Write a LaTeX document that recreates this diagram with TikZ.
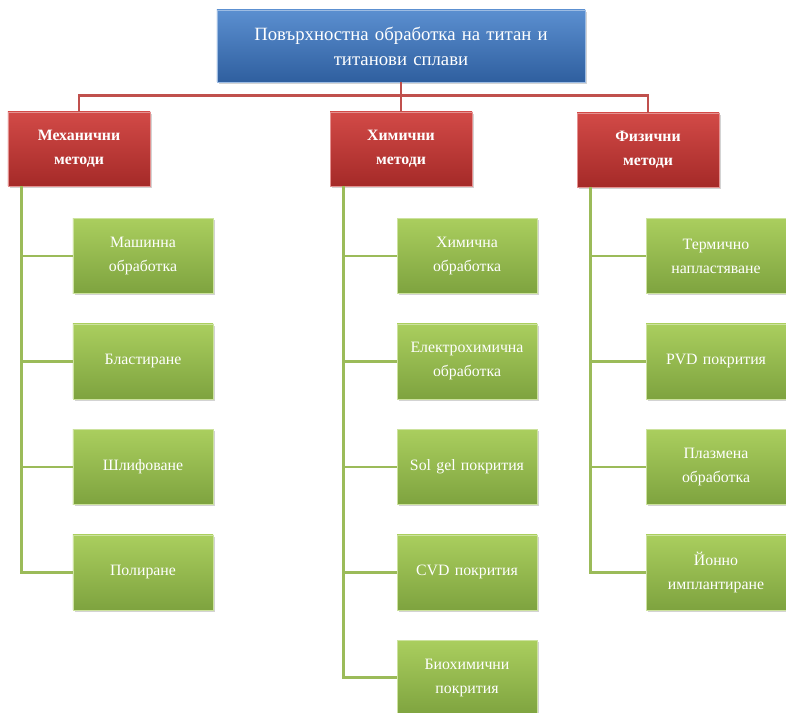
\documentclass[tikz,border=0pt]{standalone}
\usepackage{fontspec}
\setmainfont{Liberation Serif}
\usetikzlibrary{positioning,shadows}

\definecolor{blueTop}{HTML}{5B8FD0}
\definecolor{blueBot}{HTML}{2F5F9F}
\definecolor{redTop}{HTML}{D24A47}
\definecolor{redBot}{HTML}{A52A28}
\definecolor{greenTop}{HTML}{AACE5E}
\definecolor{greenBot}{HTML}{7EA33F}
\definecolor{lineRed}{HTML}{C0504D}
\definecolor{lineGreen}{HTML}{9BBB59}

\begin{document}
\begin{tikzpicture}[
x=0.03cm, y=-0.03cm,
node distance=0.9cm,
box/.style={
    rectangle,
    align=center,
    text=white,
    drop shadow={opacity=0.35, shadow xshift=0.06cm, shadow yshift=-0.06cm}
},
titlebox/.style={
    box,
    draw=blueTop!60!white,
    top color=blueTop,
    bottom color=blueBot,
    minimum width=11.04cm,
    minimum height=2.16cm,
    text width=10.6cm,
    font=\fontsize{16}{21.5}\selectfont
},
groupbox/.style={
    box,
    draw=redTop!60!white,
    top color=redTop,
    bottom color=redBot,
    minimum width=4.26cm,
    minimum height=2.22cm,
    text width=3.9cm,
    font=\bfseries\fontsize{13.5}{20.5}\selectfont
},
leafbox/.style={
    box,
    draw=greenTop!60!white,
    top color=greenTop,
    bottom color=greenBot,
    minimum width=4.2cm,
    minimum height=2.25cm,
    text width=3.9cm,
    font=\fontsize{13.5}{20.5}\selectfont
},
redline/.style={draw=lineRed, line width=2.4pt},
greenline/.style={draw=lineGreen, line width=2.4pt}
]

\useasboundingbox (0,0) rectangle (786,713);

\node[titlebox] (title) at (401,46) {Повърхностна обработка на титан и\\титанови сплави};

\node[groupbox] (mech) at (79,149) {Механични\\методи};
\node[groupbox] (chem) at (401,149) {Химични\\методи};
\node[groupbox] (phys) at (648,150) {Физични\\методи};

% mechanical methods
\node[leafbox] (m1) at (143,256) {Машинна\\обработка};
\node[leafbox, below=of m1] (m2) {Бластиране};
\node[leafbox, below=of m2] (m3) {Шлифоване};
\node[leafbox, below=of m3] (m4) {Полиране};

% chemical methods
\node[leafbox] (c1) at (467,256) {Химична\\обработка};
\node[leafbox, below=of c1] (c2) {Електрохимична\\обработка};
\node[leafbox, below=of c2] (c3) {Sol gel покрития};
\node[leafbox, below=of c3] (c4) {CVD покрития};
\node[leafbox, below=of c4] (c5) {Биохимични\\покрития};

% physical methods
\node[leafbox] (p1) at (716,256) {Термично\\напластяване};
\node[leafbox, below=of p1] (p2) {PVD покрития};
\node[leafbox, below=of p2] (p3) {Плазмена\\обработка};
\node[leafbox, below=of p3] (p4) {Йонно\\имплантиране};

\draw[redline] (title.south) -- ++(0,13) -| (mech.north);
\draw[redline] (title.south) -- (chem.north);
\draw[redline] (title.south) -- ++(0,13) -| (phys.north);

\foreach \n in {m1,m2,m3,m4}
    \draw[greenline] ([xshift=0.42cm]mech.south west) |- (\n.west);
\foreach \n in {c1,c2,c3,c4,c5}
    \draw[greenline] ([xshift=0.42cm]chem.south west) |- (\n.west);
\foreach \n in {p1,p2,p3,p4}
    \draw[greenline] ([xshift=0.42cm]phys.south west) |- (\n.west);

\end{tikzpicture}
\end{document}
